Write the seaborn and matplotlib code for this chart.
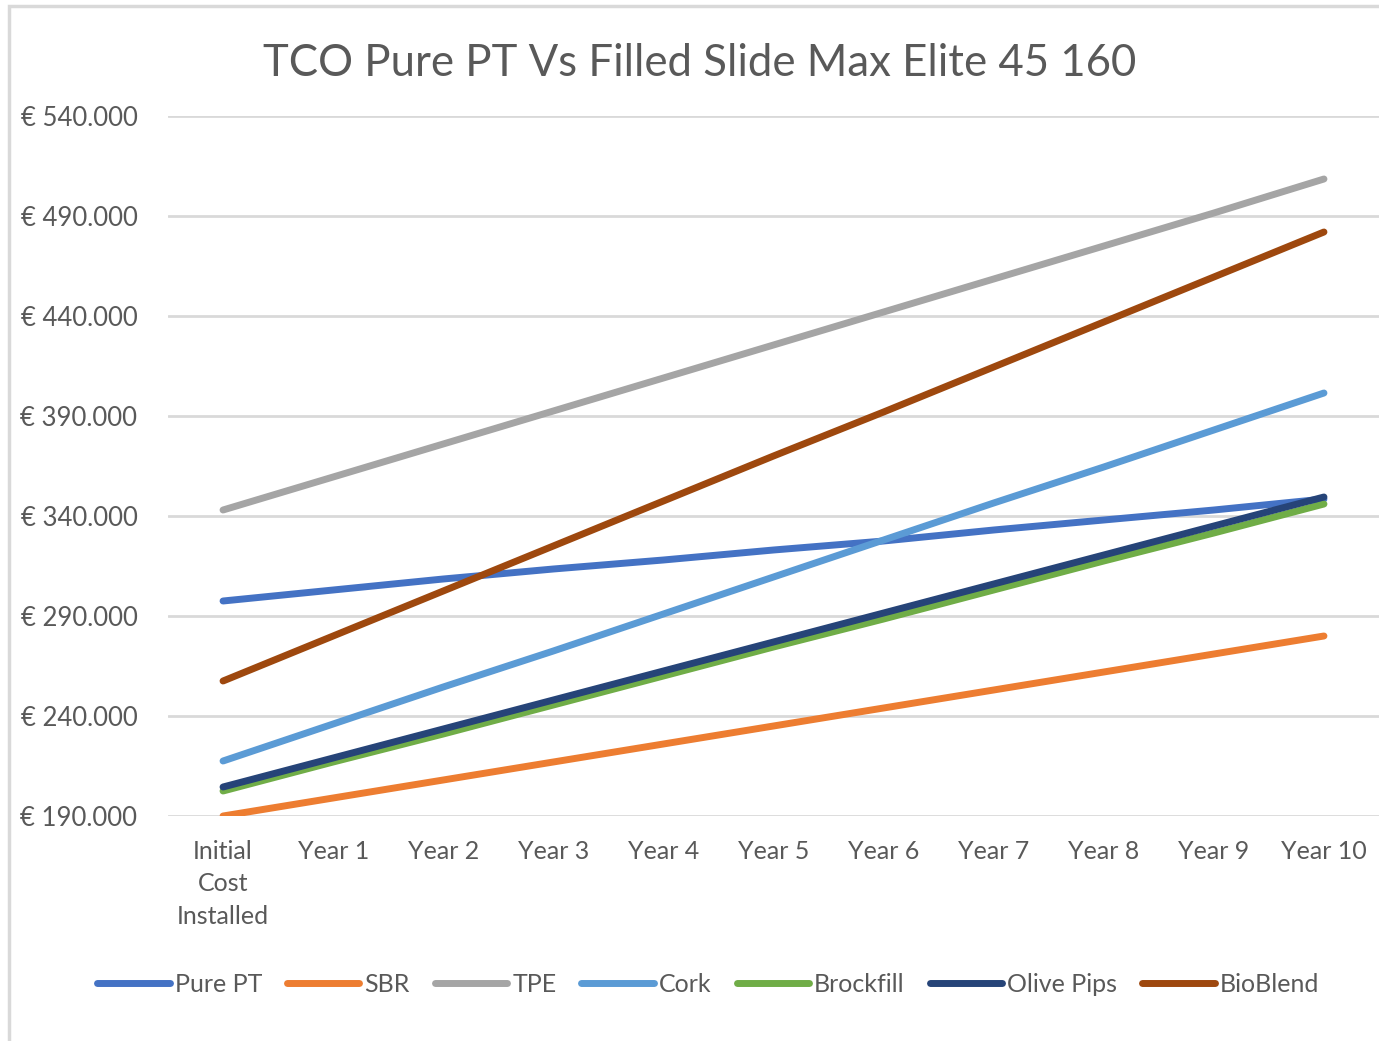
import pandas as pd
import numpy as np
import matplotlib.pyplot as plt
import seaborn as sns
from matplotlib.patches import Rectangle

# categories on the x axis
periods = ['Initial\nCost\nInstalled', 'Year 1', 'Year 2', 'Year 3', 'Year 4', 'Year 5',
           'Year 6', 'Year 7', 'Year 8', 'Year 9', 'Year 10']

# TCO values (EUR)
pure_pt = [297500, 303000, 308500, 313500, 318000, 323000, 327500, 333000, 338000, 343000, 348500]
sbr = [190000, 199000, 208000, 217000, 226000, 235000, 244000, 253000, 262000, 271000, 280000]
tpe = [343000, 359500, 376000, 392500, 409000, 425500, 442000, 458500, 475000, 491500, 508500]
cork = [217500, 236000, 254500, 272500, 291000, 309500, 328000, 346500, 364500, 383000, 401500]
brockfill = [202500, 217000, 231000, 245500, 260000, 274500, 288500, 303000, 317500, 331500, 346000]
olive_pips = [204500, 219000, 233500, 248000, 262500, 277000, 291500, 306000, 320500, 335000, 349500]
bioblend = [257500, 280000, 302500, 325000, 347500, 370000, 392000, 414500, 437000, 459500, 482000]

series_names = ['Pure PT', 'SBR', 'TPE', 'Cork', 'Brockfill', 'Olive Pips', 'BioBlend']
series_values = [pure_pt, sbr, tpe, cork, brockfill, olive_pips, bioblend]
colors = ['#4472C4', '#ED7D31', '#A5A5A5', '#5B9BD5', '#70AD47', '#264478', '#9E480E']

y_ticks = [190000, 240000, 290000, 340000, 390000, 440000, 490000, 540000]
y_labels = ['€ 190.000', '€ 240.000', '€ 290.000', '€ 340.000', '€ 390.000',
            '€ 440.000', '€ 490.000', '€ 540.000']

# long-form table for seaborn
rows = []
for name, vals in zip(series_names, series_values):
    for i, v in enumerate(vals):
        rows.append({'pos': i, 'value': v, 'series': name})
df = pd.DataFrame(rows)

sns.set_theme(style='white')
plt.rcParams['font.family'] = ['Lato', 'DejaVu Sans']
text_color = '#595959'

fig = plt.figure(figsize=(13.79, 10.41), dpi=100)
ax = fig.add_axes([168 / 1379, 1 - 816 / 1041, 1 - 168 / 1379, 700 / 1041])

sns.lineplot(data=df, x='pos', y='value', hue='series', hue_order=series_names,
             palette=colors, linewidth=5, solid_capstyle='round', ax=ax)

ax.set_xlim(-0.5, 10.5)
ax.set_ylim(190000, 540000)
ax.set_xticks(range(len(periods)))
ax.set_xticklabels(periods, fontsize=18, color=text_color, linespacing=1.5)
ax.set_yticks(y_ticks)
ax.set_yticklabels(y_labels, fontsize=18.5, color=text_color)
ax.tick_params(axis='y', length=0, pad=22)
ax.tick_params(axis='x', length=0, pad=17)
ax.set_xlabel('')
ax.set_ylabel('')
ax.grid(axis='y', color='#D9D9D9', linewidth=2)
ax.set_axisbelow(True)
for s in ax.spines.values():
    s.set_visible(False)

fig.text(700 / 1379, 1 - 64 / 1041, 'TCO Pure PT Vs Filled Slide Max Elite 45 160',
         fontsize=31.5, color=text_color, ha='center', va='center')

handles, labels = ax.get_legend_handles_labels()
leg = ax.legend(handles, labels, loc='center', bbox_to_anchor=(708 / 1379, 1 - 984 / 1041),
                bbox_transform=fig.transFigure, ncol=7, frameon=False, fontsize=18,
                handlelength=2.9, handletextpad=0.2, columnspacing=1.0,
                labelcolor=text_color)
for h in leg.get_lines():
    h.set_solid_capstyle('round')

# outer chart border
fig.patches.append(Rectangle((9 / 1379, -0.01), 1.02, 1 - 6 / 1041 + 0.01,
                             transform=fig.transFigure, fill=False,
                             edgecolor='#D9D9D9', linewidth=2.5))

fig.savefig('out.png', dpi=100, facecolor='white')
